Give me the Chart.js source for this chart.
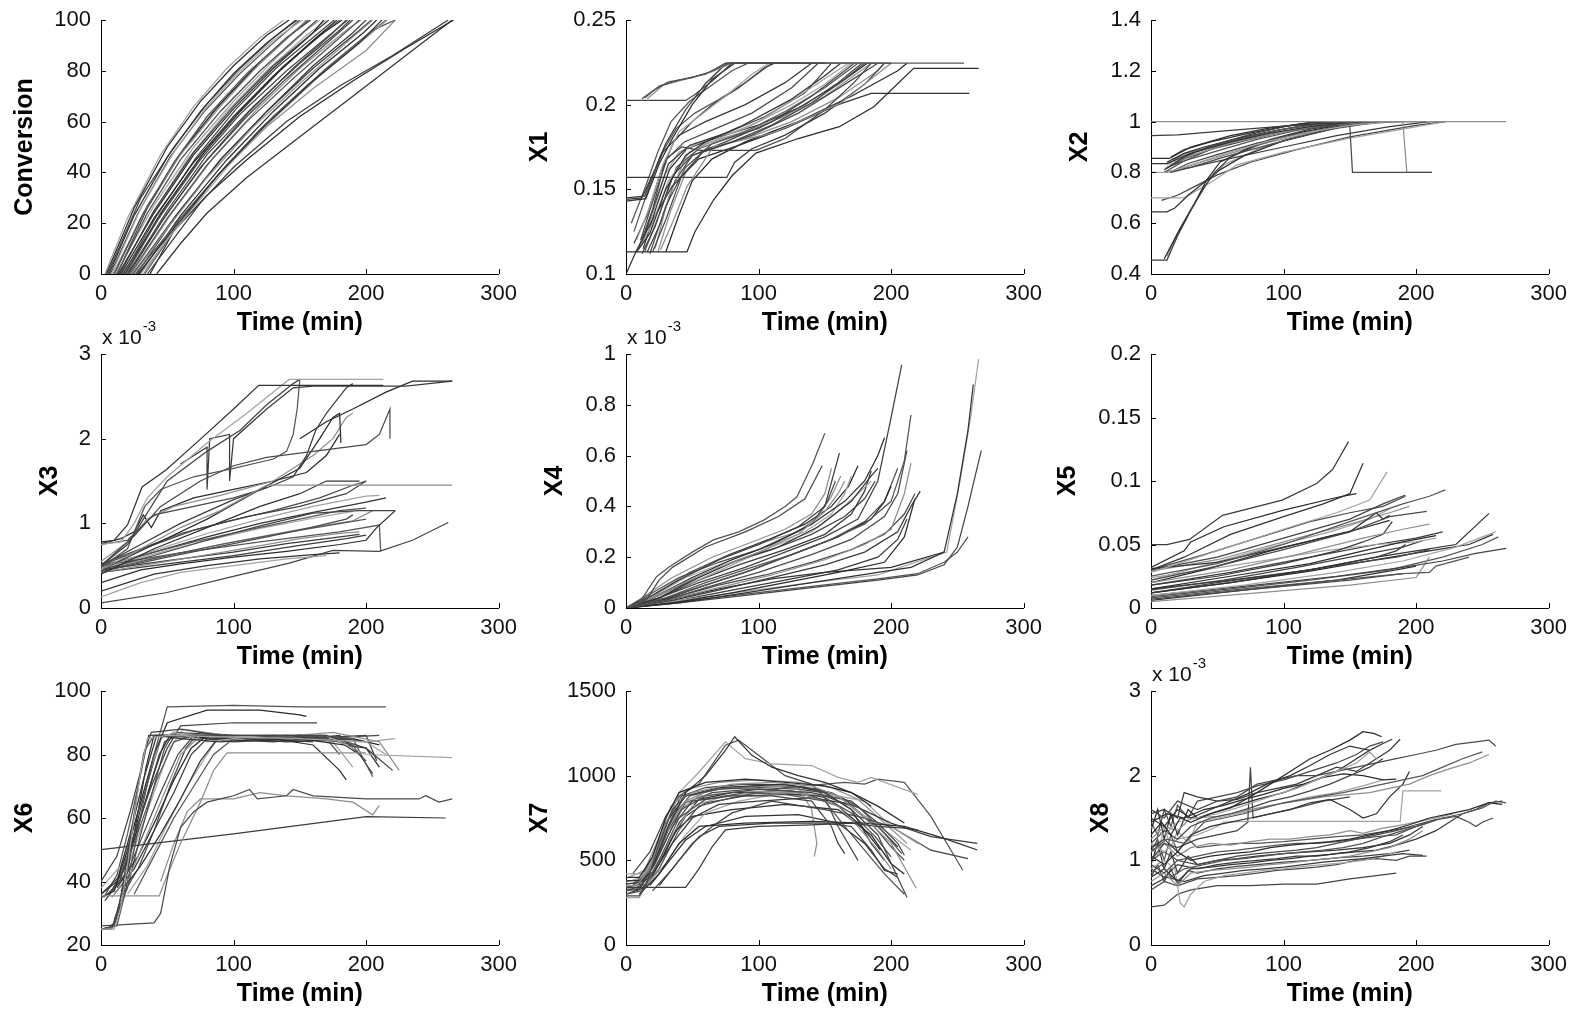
<!DOCTYPE html>
<html>
<head>
<meta charset="utf-8">
<title>Batch trajectories</title>
<script src="https://cdn.jsdelivr.net/npm/chart.js@4.4.1/dist/chart.umd.min.js"></script>
<style>
  html, body { margin: 0; padding: 0; background: #fff; }
  #wrap { position: relative; width: 1572px; height: 1009px; overflow: hidden; }
  #wrap canvas { position: absolute; }
</style>
</head>
<body>
<div id="wrap"></div>
<script>
// ---- axis ticks ----
const timeTicks = [0, 100, 200, 300];
const conversionTicks = [0, 20, 40, 60, 80, 100];
const x1Ticks = [0.1, 0.15, 0.2, 0.25];
const x2Ticks = [0.4, 0.6, 0.8, 1, 1.2, 1.4];
const x3Ticks = [0, 1, 2, 3];          // x 10^-3
const x4Ticks = [0, 0.2, 0.4, 0.6, 0.8, 1]; // x 10^-3
const x5Ticks = [0, 0.05, 0.1, 0.15, 0.2];
const x6Ticks = [20, 40, 60, 80, 100];
const x7Ticks = [0, 500, 1000, 1500];
const x8Ticks = [0, 1, 2, 3];          // x 10^-3

// ---- batch runs: each run is a list of [time (min), value] samples ----
const conversionRuns = [
  [[4,0],[25,26],[50,50],[75,68],[100,82],[125,94],[142,100]],
  [[6,0],[25,23],[50,46],[75,64],[100,79],[125,91],[148,100]],
  [[8,0],[30,26],[55,48],[80,66],[105,80],[130,92],[152,100]],
  [[5,0],[30,30],[55,50],[80,67],[105,81],[130,93],[147,100]],
  [[10,0],[30,22],[55,44],[80,62],[110,79],[140,93],[158,100]],
  [[12,0],[35,24],[60,45],[90,64],[120,80],[150,94],[163,100]],
  [[9,0],[35,27],[60,47],[90,66],[120,83],[145,95],[155,100]],
  [[14,0],[40,25],[70,48],[100,66],[130,82],[160,95],[172,100]],
  [[15,0],[40,22],[70,44],[100,62],[130,78],[160,92],[178,100]],
  [[18,0],[45,24],[75,46],[105,64],[135,80],[165,94],[182,100]],
  [[11,0],[40,27],[70,50],[100,68],[130,84],[155,96],[165,100]],
  [[20,0],[45,20],[75,42],[110,62],[140,77],[175,93],[190,100]],
  [[22,0],[50,22],[80,43],[110,60],[145,77],[180,93],[195,100]],
  [[16,0],[45,23],[75,45],[105,63],[140,80],[170,93],[186,100]],
  [[25,0],[50,18],[80,38],[115,58],[150,75],[185,91],[205,100]],
  [[24,0],[55,22],[90,45],[125,64],[160,81],[195,96],[204,100]],
  [[13,0],[40,24],[70,47],[100,65],[130,81],[160,95],[168,100]],
  [[28,0],[55,18],[90,40],[125,59],[160,76],[195,91],[212,100]],
  [[30,0],[60,20],[95,42],[130,61],[165,78],[200,93],[216,100]],
  [[20,0],[50,25],[80,47],[115,66],[150,83],[180,96],[188,100]],
  [[26,0],[60,22],[95,43],[130,62],[170,81],[205,96],[222,100]],
  [[7,0],[28,24],[52,46],[78,64],[105,79],[130,91],[150,100]],
  [[32,0],[60,22],[90,40],[125,58],[160,73],[200,88],[222,100]],
  [[35,0],[55,14],[75,28],[100,42],[140,60],[180,74],[220,86],[262,100]],
  [[37,0],[55,17],[80,31],[110,45],[150,62],[190,76],[230,89],[266,100]],
  [[42,0],[60,12],[80,24],[110,38],[150,54],[190,70],[230,86],[265,100]],
  [[3,0],[20,22],[45,47],[70,66],[95,81],[120,93],[138,100]],
  [[17,0],[42,23],[72,46],[102,65],[132,81],[162,94],[176,100]],
  [[19,0],[48,26],[78,48],[108,66],[138,82],[168,95],[180,100]],
  [[21,0],[50,24],[80,45],[112,64],[145,81],[175,95],[185,100]],
  [[23,0],[52,23],[85,46],[118,65],[150,81],[185,96],[196,100]],
  [[27,0],[58,24],[92,46],[125,64],[160,82],[190,95],[200,100]],
  [[29,0],[60,23],[95,45],[130,64],[165,81],[198,95],[208,100]],
  [[10,0],[32,24],[58,46],[85,64],[115,81],[140,93],[158,100]],
  [[14,0],[38,23],[65,45],[95,64],[125,80],[155,94],[170,100]],
  [[12,0],[35,26],[62,49],[90,67],[118,82],[145,95],[156,100]],
  [[33,0],[55,17],[85,37],[120,57],[155,74],[190,89],[215,100]]
];

const x1Runs = [
  [[0,0.2025],[45,0.2025],[52,0.206],[65,0.214],[80,0.2245],[150,0.2245]],
  [[12,0.2035],[20,0.208],[32,0.2135],[50,0.216],[62,0.219],[78,0.2245],[255,0.2245]],
  [[14,0.204],[25,0.211],[40,0.2145],[60,0.218],[75,0.2245],[130,0.2245]],
  [[16,0.2035],[28,0.2115],[45,0.215],[65,0.2195],[80,0.2245],[180,0.2245]],
  [[0,0.144],[12,0.145],[22,0.162],[30,0.177],[45,0.197],[60,0.2125],[76,0.2245],[200,0.2245]],
  [[0,0.143],[15,0.1445],[25,0.165],[35,0.18],[50,0.2],[65,0.215],[82,0.2245]],
  [[8,0.113],[18,0.124],[30,0.15],[45,0.17],[60,0.178],[86,0.187],[124,0.2028],[149,0.2165],[162,0.2245]],
  [[10,0.115],[20,0.13],[32,0.155],[48,0.172],[70,0.18],[100,0.19],[130,0.205],[155,0.218],[168,0.2245]],
  [[12,0.112],[22,0.128],[35,0.158],[50,0.17],[80,0.178],[110,0.188],[140,0.201],[165,0.215],[180,0.2245]],
  [[14,0.113],[25,0.135],[38,0.163],[55,0.174],[90,0.184],[120,0.196],[150,0.21],[175,0.2245]],
  [[20,0.113],[30,0.132],[42,0.158],[58,0.172],[95,0.182],[130,0.195],[165,0.212],[190,0.2245]],
  [[26,0.1142],[36,0.132],[46,0.1516],[66,0.1752],[111,0.1833],[162,0.201],[187,0.2165],[200,0.2245]],
  [[0,0.157],[76,0.157],[82,0.166],[95,0.174],[120,0.182],[150,0.195],[180,0.212],[195,0.2245]],
  [[0,0.113],[46,0.113],[52,0.125],[66,0.1437],[80,0.158],[98,0.1714],[130,0.18],[161,0.187],[187,0.1988],[217,0.2215],[266,0.2215]],
  [[0,0.1],[8,0.114],[20,0.132],[35,0.152],[55,0.168],[85,0.176],[120,0.186],[160,0.2],[185,0.2067],[259,0.2067]],
  [[8,0.12],[18,0.14],[28,0.165],[40,0.184],[55,0.193],[75,0.205],[95,0.218],[108,0.2245]],
  [[10,0.116],[20,0.138],[30,0.168],[42,0.175],[56,0.173],[98,0.173],[120,0.18],[150,0.197],[172,0.213],[185,0.2245]],
  [[6,0.125],[16,0.148],[26,0.17],[38,0.186],[52,0.195],[70,0.203],[90,0.213],[110,0.2245]],
  [[18,0.112],[30,0.14],[45,0.163],[65,0.177],[100,0.186],[135,0.2],[160,0.213],[178,0.2245]],
  [[22,0.115],[32,0.145],[44,0.167],[60,0.177],[85,0.183],[120,0.193],[150,0.205],[170,0.216],[185,0.2245]],
  [[12,0.118],[22,0.142],[32,0.165],[48,0.176],[75,0.183],[105,0.193],[135,0.207],[155,0.2245]],
  [[30,0.113],[40,0.135],[50,0.155],[65,0.168],[90,0.178],[130,0.19],[170,0.205],[205,0.22],[212,0.2245]],
  [[6,0.118],[16,0.135],[26,0.16],[36,0.178],[50,0.19],[65,0.2],[85,0.21],[105,0.222],[112,0.2245]],
  [[9,0.114],[19,0.132],[29,0.158],[40,0.172],[60,0.179],[90,0.186],[125,0.2],[150,0.212],[170,0.2245]],
  [[16,0.113],[26,0.13],[37,0.155],[50,0.17],[75,0.178],[110,0.19],[140,0.205],[165,0.22],[172,0.2245]],
  [[4,0.13],[14,0.15],[24,0.172],[34,0.19],[48,0.202],[62,0.21],[80,0.22],[92,0.2245]],
  [[11,0.12],[21,0.145],[31,0.168],[44,0.178],[65,0.185],[95,0.195],[125,0.21],[145,0.2245]],
  [[24,0.113],[34,0.138],[45,0.16],[60,0.174],[90,0.18],[125,0.19],[160,0.204],[190,0.22],[195,0.2245]],
  [[0,0.145],[14,0.146],[20,0.158],[28,0.172],[40,0.182],[60,0.19],[90,0.2],[120,0.213],[140,0.2245]],
  [[13,0.115],[23,0.14],[33,0.162],[46,0.174],[70,0.181],[100,0.188],[130,0.198],[160,0.212],[182,0.2245]]
];

const x2Runs = [
  [[0,1.0],[268,1.0]],
  [[0,0.945],[20,0.948],[60,0.965],[100,0.982],[150,1.0],[222,1.0]],
  [[0,0.855],[14,0.855],[30,0.9],[60,0.945],[90,0.975],[120,0.995],[135,1.0]],
  [[0,0.835],[12,0.835],[30,0.875],[60,0.92],[90,0.955],[120,0.98],[150,0.997],[170,1.0]],
  [[0,0.80],[12,0.80],[30,0.83],[60,0.88],[90,0.925],[120,0.96],[150,0.985],[180,1.0]],
  [[10,0.81],[25,0.86],[45,0.905],[75,0.95],[105,0.985],[125,1.0]],
  [[12,0.82],[28,0.85],[50,0.885],[80,0.93],[110,0.965],[140,0.99],[160,1.0]],
  [[15,0.80],[30,0.82],[55,0.86],[90,0.91],[120,0.95],[148,0.985],[150,0.98],[152,0.80],[212,0.80]],
  [[14,0.83],[32,0.87],[60,0.915],[95,0.955],[130,0.985],[160,0.997],[190,1.0],[193,0.8],[212,0.8]],
  [[0,0.455],[12,0.455],[20,0.55],[30,0.65],[40,0.74],[48,0.80],[60,0.86],[90,0.93],[120,0.97],[150,0.995],[175,1.0]],
  [[10,0.46],[20,0.56],[32,0.67],[42,0.77],[52,0.84],[75,0.9],[110,0.955],[145,0.99],[165,1.0]],
  [[0,0.645],[12,0.645],[18,0.66],[28,0.71],[40,0.76],[52,0.81],[70,0.865],[100,0.925],[140,0.975],[175,1.0]],
  [[0,0.7],[25,0.7],[45,0.76],[65,0.83],[100,0.88],[150,0.935],[190,0.97],[222,1.0]],
  [[8,0.69],[20,0.71],[35,0.75],[50,0.79],[75,0.84],[110,0.89],[150,0.94],[200,0.985],[222,1.0]],
  [[10,0.8],[25,0.845],[45,0.89],[70,0.935],[100,0.97],[125,0.99],[145,1.0]],
  [[18,0.84],[35,0.885],[60,0.925],[90,0.96],[115,0.985],[140,1.0]],
  [[20,0.81],[38,0.84],[60,0.875],[90,0.92],[125,0.96],[160,0.99],[185,1.0]],
  [[10,0.8],[30,0.82],[60,0.855],[100,0.9],[140,0.945],[180,0.98],[210,1.0]],
  [[12,0.84],[25,0.875],[40,0.9],[70,0.94],[100,0.97],[130,0.993],[150,1.0]],
  [[15,0.86],[25,0.89],[45,0.92],[70,0.95],[100,0.98],[120,0.995],[140,1.0]],
  [[12,0.83],[25,0.87],[45,0.9],[70,0.93],[100,0.96],[130,0.985],[155,1.0]],
  [[14,0.8],[28,0.835],[50,0.87],[80,0.915],[110,0.95],[140,0.98],[165,1.0]],
  [[16,0.85],[30,0.88],[55,0.91],[85,0.945],[115,0.975],[140,0.995],[150,1.0]],
  [[11,0.815],[26,0.855],[48,0.895],[75,0.93],[105,0.965],[135,0.99],[158,1.0]],
  [[12,0.47],[22,0.58],[33,0.68],[44,0.77],[55,0.83],[80,0.89],[115,0.95],[150,0.99],[170,1.0]]
];

const x3Runs = [
  [[0,0.78],[10,0.8],[20,0.98],[31,1.43],[49,1.63],[74,1.98],[100,2.35],[119,2.63],[213,2.63]],
  [[0,0.75],[15,0.78],[25,1.0],[35,1.3],[50,1.55],[80,1.95],[110,2.3],[130,2.55],[142,2.7],[213,2.7]],
  [[0,0.5],[20,0.75],[32,1.05],[50,1.5],[80,1.85],[105,2.1],[125,2.4],[145,2.65],[150,2.7]],
  [[0,0.48],[20,0.7],[33,1.2],[45,1.4],[70,1.55],[100,1.65],[130,1.76],[140,1.85],[145,2.05],[148,2.35],[150,2.7]],
  [[0,0.5],[25,0.85],[45,1.2],[75,1.5],[100,1.68],[125,1.78],[160,1.85],[200,1.93],[210,2.05],[218,2.35],[218,2.0]],
  [[0,0.45],[30,0.7],[60,0.95],[90,1.15],[125,1.45],[265,1.45]],
  [[0,0.5],[30,0.75],[60,1.0],[100,1.28],[130,1.45],[145,1.55],[155,1.8],[162,2.1],[170,2.3],[185,2.6],[190,2.65]],
  [[0,0.45],[40,0.75],[80,1.05],[120,1.4],[150,1.65],[165,2.0],[175,2.25],[180,2.3],[181,1.95]],
  [[0,0.4],[40,0.7],[80,0.95],[120,1.2],[150,1.35],[170,1.5],[195,1.5]],
  [[0,0.47],[40,0.68],[80,0.88],[120,1.05],[160,1.2],[200,1.32],[210,1.33]],
  [[0,0.45],[40,0.62],[80,0.8],[120,0.97],[160,1.12],[195,1.15],[222,1.15]],
  [[0,0.5],[30,0.62],[70,0.78],[110,0.92],[150,1.05],[180,1.15],[200,1.18]],
  [[0,0.43],[50,0.6],[100,0.76],[150,0.92],[185,1.05],[190,1.1]],
  [[0,0.42],[50,0.55],[100,0.68],[150,0.82],[180,0.88],[195,0.9]],
  [[0,0.45],[50,0.56],[100,0.66],[140,0.76],[170,0.82],[195,0.87]],
  [[0,0.3],[30,0.45],[60,0.52],[100,0.6],[140,0.67],[180,0.75],[200,0.8],[208,0.95],[222,1.15]],
  [[0,0.2],[40,0.4],[80,0.5],[120,0.58],[160,0.63],[180,0.65]],
  [[0,0.13],[30,0.3],[60,0.42],[100,0.5],[140,0.58],[170,0.62]],
  [[0,0.06],[49,0.18],[99,0.37],[142,0.53],[175,0.68],[210,0.67],[235,0.8],[262,1.01]],
  [[0,0.5],[60,0.65],[120,0.78],[180,0.9],[210,0.98],[211,0.67]],
  [[0,0.75],[20,0.8],[30,0.95],[40,1.1],[70,1.2],[100,1.3],[125,1.42]],
  [[0,0.55],[20,0.78],[35,1.05],[55,1.2],[90,1.33],[130,1.5],[160,1.8],[175,2.0],[185,2.25],[190,2.3]],
  [[60,1.7],[80,1.9],[80,1.4],[82,2.0],[97,2.05],[97,1.5],[100,2.0],[125,2.35],[145,2.6],[160,2.62],[230,2.62],[265,2.68]],
  [[150,2.0],[170,2.2],[190,2.35],[215,2.55],[235,2.68],[265,2.68]],
  [[0,0.48],[40,0.66],[80,0.84],[120,1.0],[160,1.13],[200,1.25],[215,1.3]],
  [[0,0.46],[40,0.64],[80,0.8],[120,0.94],[160,1.06],[190,1.14]],
  [[0,0.5],[35,0.72],[70,0.92],[110,1.08],[150,1.2],[185,1.35],[200,1.5]],
  [[0,0.44],[45,0.6],[90,0.75],[135,0.88],[170,0.97],[200,1.05]],
  [[0,0.52],[30,0.7],[60,0.88],[95,1.02],[130,1.15],[165,1.3],[190,1.45],[200,1.5]],
  [[0,0.47],[50,0.62],[100,0.78],[150,0.93],[190,1.03],[205,1.15]],
  [[0,0.42],[50,0.52],[100,0.62],[150,0.74],[185,0.82],[200,0.86]],
  [[0,0.76],[15,0.82],[25,0.9],[32,1.1],[38,0.95],[45,1.15],[70,1.3],[100,1.4],[130,1.5],[155,1.6],[170,1.8],[180,2.05]]
];

const x4Runs = [
  [[0,0],[10,0.02],[23,0.123],[33,0.163],[50,0.22],[66,0.268],[85,0.3],[104,0.346],[120,0.4],[129,0.438],[141,0.57],[150,0.688]],
  [[0,0],[15,0.03],[25,0.11],[35,0.16],[60,0.24],[90,0.3],[115,0.36],[135,0.43],[148,0.56]],
  [[0,0],[20,0.04],[40,0.09],[70,0.16],[100,0.22],[130,0.29],[150,0.38],[160,0.45],[165,0.5]],
  [[0,0],[20,0.05],[40,0.11],[70,0.19],[100,0.25],[130,0.32],[150,0.4],[161,0.61]],
  [[0,0],[20,0.04],[50,0.12],[80,0.19],[110,0.25],[140,0.33],[165,0.42],[180,0.5],[190,0.6],[195,0.67]],
  [[0,0],[25,0.04],[55,0.12],[85,0.19],[115,0.24],[145,0.32],[170,0.42],[185,0.52],[190,0.55]],
  [[0,0],[25,0.05],[50,0.1],[80,0.17],[110,0.24],[140,0.3],[160,0.38],[175,0.45],[185,0.5]],
  [[0,0],[25,0.04],[55,0.1],[90,0.16],[120,0.22],[150,0.28],[175,0.35],[190,0.5],[200,0.75],[208,0.957]],
  [[0,0],[30,0.04],[60,0.09],[90,0.14],[120,0.2],[150,0.26],[180,0.33],[200,0.42],[210,0.58],[215,0.76]],
  [[0,0],[30,0.03],[60,0.08],[100,0.14],[140,0.21],[170,0.27],[195,0.36],[205,0.45],[212,0.62]],
  [[0,0],[30,0.03],[70,0.08],[110,0.13],[150,0.19],[180,0.25],[200,0.31],[210,0.45],[215,0.57]],
  [[0,0],[35,0.03],[70,0.07],[110,0.12],[150,0.17],[180,0.22],[205,0.3],[215,0.4],[222,0.46]],
  [[0,0],[35,0.02],[80,0.06],[120,0.1],[160,0.14],[195,0.18],[210,0.28],[218,0.43]],
  [[0,0],[40,0.02],[90,0.06],[140,0.1],[190,0.14],[215,0.16],[240,0.22],[250,0.45],[258,0.7],[262,0.88]],
  [[0,0],[40,0.03],[90,0.065],[140,0.1],[190,0.13],[230,0.2],[242,0.22],[252,0.5],[260,0.75],[266,0.98]],
  [[0,0],[40,0.02],[90,0.05],[140,0.08],[190,0.11],[220,0.13],[240,0.17],[250,0.24],[258,0.4],[268,0.62]],
  [[0,0],[40,0.025],[90,0.055],[140,0.085],[190,0.115],[220,0.135],[240,0.18],[250,0.22],[258,0.28]],
  [[0,0],[20,0.06],[40,0.12],[70,0.18],[100,0.23],[125,0.29],[140,0.33],[152,0.42],[158,0.5]],
  [[0,0],[20,0.05],[45,0.13],[75,0.2],[105,0.26],[130,0.3],[145,0.36],[155,0.44],[162,0.52]],
  [[0,0],[25,0.04],[55,0.11],[85,0.17],[120,0.23],[150,0.29],[170,0.37],[180,0.46],[185,0.54]],
  [[0,0],[30,0.035],[60,0.09],[95,0.15],[130,0.22],[160,0.28],[185,0.35],[195,0.42],[200,0.48]],
  [[0,0],[35,0.035],[70,0.075],[110,0.115],[150,0.14],[200,0.16],[240,0.22]],
  [[0,0],[20,0.045],[45,0.12],[75,0.18],[105,0.24],[135,0.3],[155,0.37],[165,0.45],[170,0.52]],
  [[0,0],[25,0.05],[50,0.11],[80,0.18],[110,0.23],[140,0.29],[165,0.36],[180,0.43],[188,0.5]],
  [[0,0],[30,0.04],[60,0.1],[95,0.16],[125,0.21],[155,0.27],[180,0.34],[195,0.42],[205,0.55]],
  [[0,0],[35,0.04],[70,0.09],[105,0.13],[140,0.18],[170,0.23],[195,0.29],[210,0.37],[218,0.45]],
  [[0,0],[15,0.05],[35,0.12],[65,0.2],[95,0.26],[120,0.31],[140,0.37],[150,0.45],[155,0.55]],
  [[0,0],[40,0.03],[80,0.07],[120,0.11],[160,0.15],[190,0.2],[205,0.27],[212,0.35]],
  [[0,0],[22,0.055],[48,0.14],[78,0.21],[108,0.27],[135,0.33],[155,0.4],[168,0.48],[175,0.56]]
];

const x5Runs = [
  [[0,0.05],[12,0.05],[29,0.054],[54,0.073],[99,0.085],[125,0.098],[137,0.109],[149,0.131]],
  [[0,0.032],[25,0.045],[30,0.052],[55,0.064],[100,0.077],[140,0.087],[155,0.09]],
  [[0,0.03],[25,0.04],[60,0.058],[100,0.072],[130,0.082],[150,0.09],[160,0.114]],
  [[0,0.028],[50,0.045],[100,0.062],[140,0.075],[165,0.085],[178,0.107]],
  [[0,0.03],[50,0.04],[100,0.055],[150,0.07],[175,0.082],[192,0.089]],
  [[0,0.025],[50,0.035],[100,0.05],[150,0.068],[190,0.082],[210,0.088],[222,0.093]],
  [[0,0.022],[50,0.033],[100,0.046],[150,0.06],[180,0.072],[208,0.076]],
  [[0,0.02],[60,0.03],[110,0.042],[160,0.055],[190,0.062],[210,0.066]],
  [[0,0.018],[50,0.025],[100,0.035],[140,0.045],[160,0.052],[175,0.058],[182,0.068]],
  [[0,0.015],[60,0.025],[120,0.035],[160,0.045],[190,0.052],[215,0.057]],
  [[0,0.012],[60,0.02],[120,0.03],[170,0.04],[200,0.045],[230,0.05],[255,0.0745]],
  [[0,0.01],[70,0.018],[140,0.028],[190,0.037],[230,0.048],[260,0.06]],
  [[0,0.01],[70,0.017],[140,0.025],[190,0.032],[220,0.037],[245,0.043],[268,0.047]],
  [[0,0.008],[70,0.015],[140,0.022],[190,0.027],[210,0.028],[215,0.033],[240,0.04]],
  [[0,0.007],[80,0.015],[150,0.022],[190,0.027]],
  [[0,0.005],[80,0.012],[150,0.018],[200,0.024],[210,0.04]],
  [[0,0.015],[60,0.022],[120,0.03],[170,0.04],[185,0.045],[192,0.05]],
  [[0,0.02],[40,0.03],[90,0.045],[140,0.058],[160,0.063],[180,0.069]],
  [[0,0.031],[50,0.036],[100,0.048],[150,0.06],[170,0.075],[175,0.07],[180,0.073]],
  [[0,0.024],[40,0.03],[90,0.038],[130,0.045],[170,0.05],[200,0.052],[215,0.055]],
  [[0,0.012],[50,0.02],[100,0.027],[150,0.035],[185,0.04],[210,0.046]],
  [[0,0.009],[60,0.015],[120,0.022],[180,0.03],[220,0.04],[250,0.05],[262,0.056]],
  [[0,0.03],[40,0.042],[80,0.055],[120,0.068],[150,0.075],[175,0.08],[192,0.088]],
  [[0,0.029],[50,0.038],[100,0.052],[150,0.066],[180,0.075],[195,0.08]],
  [[0,0.018],[60,0.028],[120,0.04],[170,0.05],[200,0.055],[220,0.06]],
  [[0,0.012],[60,0.02],[120,0.029],[170,0.038],[210,0.045],[240,0.05],[258,0.058]],
  [[0,0.006],[70,0.014],[140,0.022],[185,0.03],[200,0.033]],
  [[0,0.022],[45,0.035],[90,0.048],[135,0.06],[165,0.07],[180,0.078]],
  [[0,0.014],[55,0.022],[110,0.032],[160,0.042],[190,0.048],[205,0.053]]
];

const x6Runs = [
  [[0,25],[10,25],[15,32],[20,45],[25,60],[30,75],[35,85],[50,86],[100,85.5],[150,85],[200,84],[222,85]],
  [[0,25],[8,25],[14,33],[20,48],[26,64],[32,80],[38,87],[60,88],[90,86],[130,86],[170,86],[200,82],[220,75]],
  [[0,25],[12,26],[18,36],[25,50],[32,65],[40,80],[50,95],[100,95.5],[150,95],[215,95]],
  [[0,26],[40,27],[45,30],[52,45],[60,57],[70,62],[80,65],[90,66],[100,67],[112,69],[118,66],[140,67],[145,69],[160,67],[200,66],[240,66],[245,67],[255,65],[265,66]],
  [[0,35.5],[44,35.5],[50,42],[60,52],[75,65],[85,75],[95,80.5],[200,80.5]],
  [[0,50],[100,55],[200,60.4],[260,60]],
  [[0,35],[10,37],[20,50],[30,65],[40,80],[50,90],[80,94],[120,94],[150,92.5],[155,92]],
  [[0,36],[12,40],[22,55],[32,72],[42,86],[60,85],[90,84],[130,85],[160,83],[180,75],[185,72]],
  [[0,38],[15,45],[25,58],[35,72],[45,85],[55,87],[80,84],[120,86],[170,86],[200,80],[265,79]],
  [[0,36],[15,42],[25,55],[38,70],[50,82],[60,89],[100,90],[163,90]],
  [[5,35],[18,44],[30,58],[42,72],[55,84],[70,86],[110,85],[150,86],[190,85],[205,73]],
  [[5,36],[20,43],[32,55],[45,68],[58,80],[70,86],[110,86],[160,86],[190,83],[205,74]],
  [[8,35],[22,42],[35,55],[48,68],[60,80],[75,86],[120,85],[175,87],[210,84],[225,75]],
  [[10,36],[25,44],[40,56],[55,68],[68,80],[80,85],[130,84],[180,86],[200,78]],
  [[12,38],[28,48],[42,60],[55,72],[68,82],[80,86],[140,84],[190,85]],
  [[15,37],[30,45],[45,55],[60,66],[75,78],[88,85],[150,85],[200,82],[210,76]],
  [[20,36],[35,45],[50,58],[65,70],[80,80],[90,86],[140,85],[200,84],[215,80]],
  [[0,40],[12,48],[22,62],[30,75],[36,86],[80,86],[120,85],[160,84]],
  [[25,36],[40,48],[55,60],[70,70],[85,80],[100,85],[150,86],[185,84]],
  [[10,28],[20,38],[30,55],[40,70],[48,82],[55,87],[100,86],[160,85],[210,86]],
  [[45,40],[55,52],[65,62],[75,66],[100,66],[120,68],[140,67],[170,66],[190,65],[205,61],[210,64]],
  [[5,25],[10,27],[18,40],[25,55],[33,68],[40,78],[46,86],[90,86]],
  [[0,25],[10,26],[16,34],[22,48],[28,62],[34,76],[40,86],[70,86],[110,85],[150,86],[190,85],[210,83]],
  [[3,34],[14,40],[24,52],[34,66],[44,80],[52,86],[90,85],[140,86],[180,84],[195,80]],
  [[6,36],[18,42],[28,54],[40,68],[52,82],[62,88],[95,86],[140,85],[175,84],[190,76]],
  [[8,37],[20,46],[30,60],[40,74],[48,84],[58,86],[100,84],[150,85],[200,86],[208,78]],
  [[2,35],[12,42],[20,55],[28,70],[34,82],[40,86],[80,85],[130,86],[170,85],[180,80]],
  [[15,35],[28,44],[40,56],[52,70],[64,82],[74,87],[120,85],[165,86],[200,84]]
];

const x7Runs = [
  [[0,290],[10,290],[15,350],[25,600],[35,800],[45,880],[70,920],[100,930],[130,920],[150,900],[170,800],[190,650],[212,280]],
  [[0,350],[8,350],[18,450],[28,680],[38,850],[50,900],[80,950],[110,960],[140,940],[160,880],[180,750],[200,600],[219,335]],
  [[0,340],[45,340],[55,450],[65,580],[75,680],[100,700],[140,710],[170,720],[190,700],[210,690],[220,680]],
  [[0,400],[10,400],[20,520],[30,750],[40,900],[60,960],[90,980],[120,960],[150,940],[170,900],[190,820],[210,720]],
  [[0,380],[12,380],[22,500],[32,700],[45,900],[60,1000],[75,1150],[82,1230],[95,1120],[110,1050],[130,1000],[150,960],[170,900],[185,820]],
  [[0,420],[15,420],[25,600],[40,900],[55,1020],[75,1200],[90,1100],[110,1070],[140,1060],[160,990],[175,960],[185,990],[220,890]],
  [[0,330],[10,330],[22,480],[35,700],[50,850],[80,880],[110,880],[140,850],[155,700],[160,600],[165,540]],
  [[0,320],[15,360],[25,500],[40,750],[60,860],[90,900],[120,890],[150,850],[165,700],[180,560],[195,420],[210,300]],
  [[5,350],[18,430],[30,620],[42,800],[60,880],[100,920],[140,900],[170,850],[190,720],[205,600],[210,530]],
  [[0,370],[12,400],[25,580],[38,780],[55,880],[90,910],[130,900],[160,820],[175,700],[190,560],[200,450]],
  [[8,330],[20,420],[35,600],[50,750],[70,830],[100,850],[140,870],[170,830],[200,720],[230,640],[265,600]],
  [[10,300],[25,420],[40,600],[55,700],[90,720],[140,730],[180,720],[210,700],[240,630],[265,561]],
  [[0,360],[10,370],[20,520],[30,720],[45,880],[70,930],[120,950],[150,900],[170,800],[185,600],[195,500]],
  [[15,350],[30,480],[45,650],[60,780],[85,850],[120,900],[160,880],[180,850],[200,700],[220,600]],
  [[20,320],[35,450],[50,600],[65,700],[80,780],[110,850],[150,800],[175,760],[200,700],[230,560],[258,510]],
  [[0,300],[12,320],[25,450],[40,680],[55,820],[80,870],[120,930],[165,960],[180,950],[190,980],[210,960],[230,760],[254,443]],
  [[5,420],[18,550],[30,760],[40,880],[55,950],[75,1180],[85,1210],[100,1120],[120,1000],[140,950],[150,870],[160,700],[175,500]],
  [[10,380],[22,520],[32,700],[45,850],[65,920],[100,940],[130,930],[140,800],[144,600],[142,522]],
  [[25,350],[40,500],[55,640],[70,700],[110,720],[150,720],[170,700],[185,560],[195,440],[205,420]],
  [[12,330],[25,480],[38,680],[50,760],[80,800],[120,830],[160,800],[185,650],[200,480],[210,420]],
  [[18,350],[30,470],[45,620],[60,700],[90,760],[130,770],[160,720],[180,600],[195,450],[205,400]],
  [[0,280],[10,280],[20,420],[35,650],[50,820],[75,880],[110,900],[140,910],[160,880],[180,760],[200,650],[215,560]],
  [[0,340],[12,360],[22,520],[32,740],[42,880],[60,930],[90,950],[120,945],[145,920],[165,860],[185,720],[200,580],[210,500]],
  [[5,360],[15,420],[25,580],[35,760],[48,880],[70,920],[100,940],[130,935],[155,900],[175,820],[195,660],[208,540]],
  [[0,320],[10,330],[20,460],[32,680],[45,840],[65,900],[95,920],[125,910],[150,870],[170,780],[188,640],[200,520]],
  [[2,400],[14,440],[24,620],[34,820],[46,920],[70,960],[100,975],[130,960],[155,930],[175,860],[195,720],[212,600]],
  [[8,350],[20,430],[32,600],[45,760],[60,840],[90,880],[120,890],[150,880],[170,820],[190,700],[205,580]],
  [[0,300],[15,340],[28,520],[40,720],[55,860],[80,900],[110,905],[140,880],[160,820],[178,700],[192,560]]
];

const x8Runs = [
  [[0,1.3],[8,1.45],[15,1.3],[22,1.5],[30,1.45],[45,1.55],[60,1.62],[75,1.75],[90,1.9],[105,2.05],[120,2.2],[135,2.3],[150,2.42],[160,2.52],[168,2.5],[174,2.46]],
  [[0,1.5],[10,1.4],[20,1.6],[30,1.5],[45,1.6],[60,1.7],[75,1.8],[90,1.92],[105,2.0],[120,2.12],[135,2.25],[150,2.35],[165,2.3],[175,2.38],[182,2.43]],
  [[0,1.4],[10,1.3],[20,1.45],[35,1.5],[50,1.55],[65,1.62],[80,1.7],[95,1.78],[110,1.85],[125,1.95],[140,2.05],[155,2.15],[165,2.28],[170,2.2]],
  [[0,1.2],[10,1.35],[20,1.25],[30,1.4],[45,1.5],[60,1.55],[75,1.62],[90,1.7],[105,1.75],[120,1.82],[135,1.9],[150,2.0],[165,2.1],[175,2.2]],
  [[0,1.1],[12,1.25],[25,1.2],[40,1.45],[55,1.5],[70,1.55],[85,1.62],[100,1.68],[115,1.72],[130,1.76],[145,1.8],[160,1.85],[175,1.9],[190,1.95],[205,2.0],[220,2.1],[235,2.2],[250,2.28]],
  [[0,1.6],[10,1.5],[20,1.7],[35,1.6],[50,1.7],[65,1.75],[80,1.9],[95,1.95],[110,2.0],[125,2.0],[140,2.05],[155,2.1],[170,2.15],[185,2.2],[200,2.25],[215,2.3],[230,2.37],[245,2.4],[255,2.42],[260,2.35]],
  [[0,1.25],[10,1.4],[20,1.35],[30,1.5],[50,1.52],[70,1.58],[90,1.65],[110,1.7],[130,1.75],[150,1.78],[165,1.8],[180,1.85],[195,1.9],[210,2.0],[225,2.08],[240,2.15],[255,2.25]],
  [[0,1.55],[10,1.6],[20,1.5],[25,1.8],[35,1.75],[50,1.7],[65,1.72],[80,1.8],[95,1.85],[110,1.9],[125,2.0],[140,2.1],[155,2.05],[165,2.15],[180,2.3],[188,2.43]],
  [[0,1.45],[12,1.55],[25,1.5],[40,1.6],[55,1.65],[70,1.72],[85,1.78],[100,1.85],[115,1.9],[130,1.98],[145,2.02],[160,2.0],[175,1.95],[185,1.96]],
  [[0,1.15],[10,1.25],[20,1.1],[30,1.3],[45,1.4],[60,1.45],[75,1.5],[90,1.55],[105,1.6],[120,1.68],[135,1.72],[150,1.6],[160,1.5],[170,1.55],[180,1.75],[190,1.9],[195,2.05]],
  [[0,1.2],[10,1.1],[20,1.25],[35,1.3],[50,1.4],[55,1.45],[72,1.46],[188,1.46],[190,1.82],[219,1.82]],
  [[0,1.0],[10,1.2],[20,1.15],[35,1.25],[50,1.3],[65,1.35],[73,1.45],[75,2.1],[77,1.5],[90,1.55],[110,1.62],[130,1.7],[150,1.75]],
  [[0,0.85],[8,0.95],[15,0.8],[25,0.9],[40,0.95],[55,1.0],[70,1.02],[85,1.05],[100,1.08],[115,1.1],[130,1.12],[145,1.15],[160,1.2],[175,1.28],[190,1.35],[205,1.42],[220,1.5],[235,1.55],[250,1.62],[260,1.7],[268,1.68]],
  [[0,0.95],[10,0.85],[20,1.0],[35,0.95],[50,1.0],[65,1.05],[80,1.08],[95,1.1],[110,1.12],[125,1.15],[140,1.2],[155,1.25],[170,1.3],[185,1.35],[200,1.42],[215,1.48],[230,1.52],[240,1.45],[245,1.4],[250,1.45],[258,1.5]],
  [[0,0.75],[10,0.85],[20,0.7],[30,0.85],[45,0.88],[60,0.9],[75,0.92],[90,0.95],[105,0.97],[120,1.0],[135,1.02],[150,1.05],[165,1.1],[180,1.15],[195,1.25],[205,1.35]],
  [[0,0.7],[12,0.8],[25,0.75],[40,0.82],[55,0.85],[70,0.88],[85,0.9],[100,0.92],[115,0.95],[130,0.98],[145,1.0],[160,1.02],[175,1.05],[190,1.08],[205,1.06]],
  [[0,1.05],[10,0.95],[20,1.1],[30,1.0],[45,1.05],[60,1.08],[75,1.1],[90,1.15],[105,1.18],[120,1.2],[135,1.22],[150,1.25],[165,1.3],[180,1.35],[195,1.42],[210,1.5],[225,1.55],[240,1.6],[255,1.68],[265,1.66]],
  [[0,0.8],[10,0.9],[20,0.75],[30,0.9],[45,0.92],[60,0.95],[75,0.97],[90,1.0],[105,1.02],[120,1.05],[135,1.07],[150,1.1],[165,1.15],[180,1.22],[190,1.3]],
  [[0,0.9],[10,1.0],[18,0.9],[22,0.5],[25,0.45],[30,0.6],[40,0.75],[55,0.82],[70,0.85],[85,0.88],[100,0.9],[115,0.93],[130,0.95],[145,0.97],[160,1.0],[175,1.05],[185,1.1]],
  [[0,0.45],[10,0.47],[20,0.6],[30,0.65],[50,0.7],[75,0.7],[100,0.72],[125,0.72],[150,0.78],[170,0.82],[185,0.85]],
  [[0,1.0],[10,1.1],[20,1.0],[35,1.05],[50,1.1],[65,1.12],[80,1.15],[95,1.18],[110,1.2],[125,1.2],[140,1.22],[155,1.25],[170,1.28],[185,1.3],[200,1.4],[210,1.45]],
  [[0,0.65],[10,0.75],[20,0.7],[35,0.78],[50,0.8],[65,0.82],[80,0.85],[95,0.88],[110,0.9],[125,0.92],[140,0.95],[155,1.0],[170,1.02],[185,1.0],[195,1.05],[208,1.05]],
  [[0,1.1],[10,1.2],[20,1.05],[30,1.15],[45,1.2],[60,1.18],[75,1.22],[90,1.25],[105,1.25],[120,1.28],[135,1.3],[150,1.35],[160,1.32],[175,1.38],[190,1.42],[200,1.45],[215,1.5],[228,1.55]],
  [[0,0.9],[10,0.8],[20,0.95],[35,0.9],[50,0.95],[65,0.98],[80,1.0],[95,1.02],[110,1.05],[125,1.05],[140,1.08],[155,1.1],[170,1.12],[185,1.18],[200,1.25],[215,1.35],[225,1.45],[235,1.55],[245,1.6],[255,1.68],[265,1.7]],
  [[0,1.35],[5,1.6],[10,1.25],[15,1.55],[20,1.3],[28,1.6],[35,1.5],[50,1.58],[65,1.65],[80,1.72],[100,1.8],[120,1.92],[140,2.05],[155,2.2],[165,2.3]],
  [[0,0.95],[5,1.2],[10,0.9],[15,1.1],[20,0.85],[28,1.05],[35,0.95],[50,1.0],[65,1.02],[80,1.05],[100,1.08],[120,1.1],[140,1.12],[160,1.15],[180,1.2],[195,1.3],[205,1.4]],
  [[0,1.2],[5,1.05],[10,1.4],[15,1.15],[20,1.35],[28,1.2],[35,1.45],[50,1.5],[65,1.55],[80,1.6],[100,1.68],[120,1.75],[140,1.8],[160,1.88],[175,1.95]],
  [[0,0.8],[5,0.95],[10,0.75],[15,0.9],[20,0.72],[28,0.88],[35,0.85],[50,0.9],[65,0.93],[80,0.95],[100,0.98],[120,1.0],[140,1.03],[160,1.05],[180,1.08],[195,1.12]],
  [[0,1.1],[5,1.25],[10,1.0],[15,1.3],[20,1.1],[28,1.25],[35,1.15],[50,1.18],[65,1.2],[80,1.2],[100,1.22],[120,1.25],[140,1.28],[160,1.3],[180,1.35],[200,1.4],[215,1.48]],
  [[0,1.45],[5,1.3],[10,1.6],[15,1.4],[20,1.65],[28,1.5],[35,1.7],[50,1.75],[65,1.8],[80,1.88],[100,1.95],[120,2.05],[140,2.15],[155,2.25],[165,2.35],[175,2.4]]
];

// ---- panel layout (3 x 3 grid) ----
const FONT = '"Liberation Sans", Arial, Helvetica, sans-serif';
const SHADES = ['#2b2b2b', '#444444', '#8f8f8f', '#333333', '#555555', '#3b3b3b', '#a3a3a3', '#4a4a4a'];
const COL_LEFT = [0, 525, 1050];
const ROW_TOP = [-20, 314, 651];
const CANVAS_W = 524, CANVAS_H = 358;

const panels = [
  { runs: conversionRuns, yTicks: conversionTicks, label: 'Conversion', pad: 10, exp: null },
  { runs: x1Runs, yTicks: x1Ticks, label: 'X1', pad: 0, exp: null },
  { runs: x2Runs, yTicks: x2Ticks, label: 'X2', pad: 15, exp: null },
  { runs: x3Runs, yTicks: x3Ticks, label: 'X3', pad: 35, exp: '-3' },
  { runs: x4Runs, yTicks: x4Ticks, label: 'X4', pad: 15, exp: '-3' },
  { runs: x5Runs, yTicks: x5Ticks, label: 'X5', pad: 3, exp: null },
  { runs: x6Runs, yTicks: x6Ticks, label: 'X6', pad: 10, exp: null },
  { runs: x7Runs, yTicks: x7Ticks, label: 'X7', pad: 0, exp: null },
  { runs: x8Runs, yTicks: x8Ticks, label: 'X8', pad: 36, exp: '-3' }
];

// Inward tick marks and the "x 10^n" scale factor above the y axis
const axisDecor = {
  id: 'axisDecor',
  afterDraw(chart, args, opts) {
    const { ctx, chartArea: a, scales: { x, y } } = chart;
    ctx.save();
    ctx.strokeStyle = '#000';
    ctx.lineWidth = 1;
    ctx.beginPath();
    x.ticks.forEach(t => {
      const px = Math.round(x.getPixelForValue(t.value)) + 0.5;
      ctx.moveTo(px, a.bottom);
      ctx.lineTo(px, a.bottom - 5);
    });
    y.ticks.forEach(t => {
      const py = Math.round(y.getPixelForValue(t.value)) + 0.5;
      ctx.moveTo(a.left, py);
      ctx.lineTo(a.left + 5, py);
    });
    ctx.stroke();
    if (opts.exponent) {
      ctx.fillStyle = '#111';
      ctx.textBaseline = 'alphabetic';
      ctx.textAlign = 'left';
      ctx.font = '21px ' + FONT;
      const base = 'x 10';
      ctx.fillText(base, a.left + 1, a.top - 10);
      const w = ctx.measureText(base).width;
      ctx.font = '15px ' + FONT;
      ctx.fillText(opts.exponent, a.left + 2 + w, a.top - 23);
    }
    ctx.restore();
  }
};

const wrap = document.getElementById('wrap');

panels.forEach((p, idx) => {
  const canvas = document.createElement('canvas');
  canvas.width = CANVAS_W;
  canvas.height = CANVAS_H;
  canvas.style.left = COL_LEFT[idx % 3] + 'px';
  canvas.style.top = ROW_TOP[Math.floor(idx / 3)] + 'px';
  wrap.appendChild(canvas);

  const datasets = p.runs.map((run, i) => ({
    data: run.map(([t, v]) => ({ x: t, y: v })),
    borderColor: SHADES[(i * 3 + idx) % SHADES.length],
    borderWidth: 1.25,
    pointRadius: 0,
    showLine: true,
    fill: false,
    tension: 0
  }));

  new Chart(canvas, {
    type: 'scatter',
    data: { datasets },
    options: {
      responsive: false,
      animation: false,
      devicePixelRatio: 1,
      events: [],
      layout: { padding: { left: 0, top: 40, right: 25, bottom: 0 } },
      plugins: {
        legend: { display: false },
        tooltip: { enabled: false },
        axisDecor: { exponent: p.exp }
      },
      scales: {
        x: {
          type: 'linear',
          min: timeTicks[0],
          max: timeTicks[timeTicks.length - 1],
          afterBuildTicks: s => { s.ticks = timeTicks.map(v => ({ value: v })); },
          afterFit: s => { s.height = 64; },
          grid: { display: false, drawTicks: false },
          border: { display: true, color: '#000', width: 1 },
          ticks: {
            autoSkip: false, maxRotation: 0, padding: 7, color: '#111',
            font: { family: FONT, size: 22 },
            callback: v => String(v)
          },
          title: {
            display: true, text: 'Time (min)', color: '#000',
            font: { family: FONT, size: 25, weight: 'bold' },
            padding: { top: 0, bottom: 0 }
          }
        },
        y: {
          type: 'linear',
          min: p.yTicks[0],
          max: p.yTicks[p.yTicks.length - 1],
          afterBuildTicks: s => { s.ticks = p.yTicks.map(v => ({ value: v })); },
          afterFit: s => { s.width = 101; },
          grid: { display: false, drawTicks: false },
          border: { display: true, color: '#000', width: 1 },
          ticks: {
            autoSkip: false, padding: 10, color: '#111',
            font: { family: FONT, size: 22 },
            callback: v => String(v)
          },
          title: {
            display: true, text: p.label, color: '#000',
            font: { family: FONT, size: 25, weight: 'bold' },
            padding: { top: p.pad, bottom: 0 }
          }
        }
      }
    },
    plugins: [axisDecor]
  });
});
</script>
</body>
</html>
